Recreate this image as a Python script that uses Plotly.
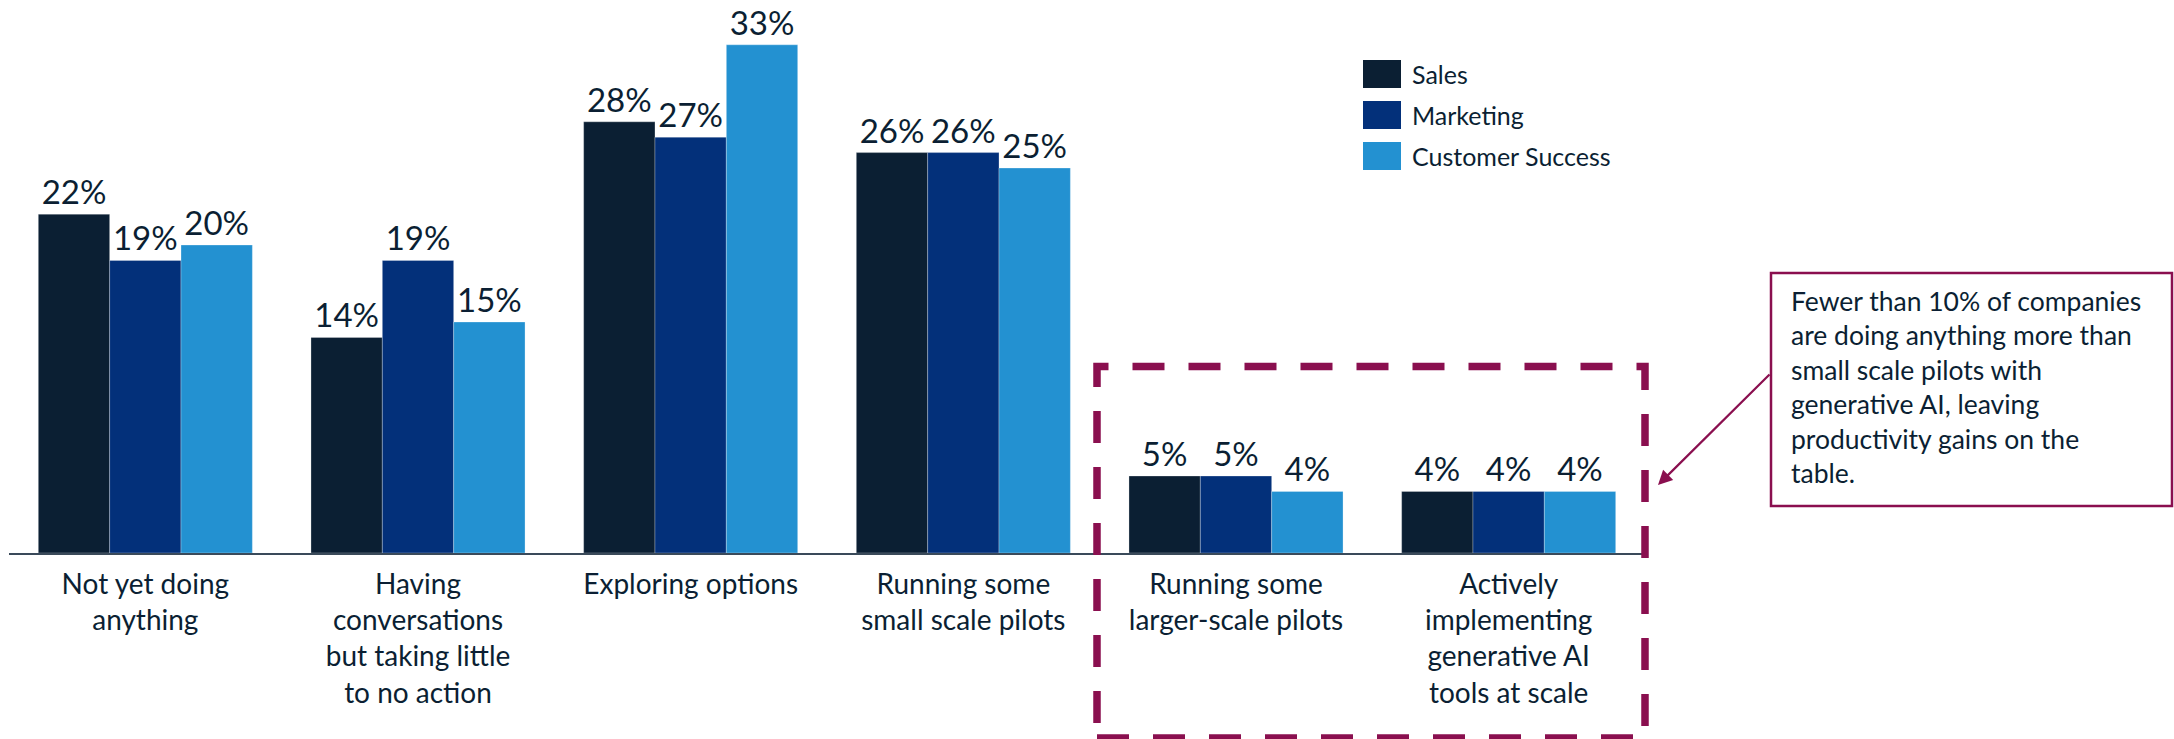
import plotly.graph_objects as go

# Survey stages (x categories) and the share of respondents per function
stages = [
    "Not yet doing<br>anything",
    "Having<br>conversations<br>but taking little<br>to no action",
    "Exploring options",
    "Running some<br>small scale pilots",
    "Running some<br>larger-scale pilots",
    "Actively<br>implementing<br>generative AI<br>tools at scale",
]
series_names = ["Sales", "Marketing", "Customer Success"]
sales = [22, 14, 28, 26, 5, 4]
marketing = [19, 19, 27, 26, 5, 4]
customer_success = [20, 15, 33, 25, 4, 4]

colors = ["#0b1f33", "#03307a", "#2391d1"]
TEXT = "#0b1f33"
MAROON = "#8a0f4f"
FONT = "Lato"

W, H = 2174, 739
M_L, M_R, M_T, M_B = 9, 529, 14, 186
PLOT_W = W - M_L - M_R
PLOT_H = H - M_T - M_B


def px_x(x):
    return (x - M_L) / PLOT_W


def px_y(y):
    return (H - M_B - y) / PLOT_H


fig = go.Figure()
for name, vals, col in zip(series_names, [sales, marketing, customer_success], colors):
    fig.add_trace(go.Bar(
        name=name,
        x=stages,
        y=vals,
        marker=dict(color=col, line=dict(color="rgba(255,255,255,0.35)", width=0.8)),
        text=[f"{v}%" for v in vals],
        textposition="outside",
        textfont=dict(family=FONT, size=33, color=TEXT),
        constraintext="none",
        cliponaxis=False,
        showlegend=False,
    ))

shapes = []
annotations = []

# Legend: coloured squares with labels
for i, (name, col) in enumerate(zip(series_names, colors)):
    top = 60 + i * 41
    shapes.append(dict(type="rect", xref="paper", yref="paper",
                       x0=px_x(1363), x1=px_x(1401), y0=px_y(top + 28), y1=px_y(top),
                       fillcolor=col, line=dict(width=0)))
    annotations.append(dict(xref="paper", yref="paper", x=px_x(1410), y=px_y(top + 14),
                            xanchor="left", yanchor="middle", showarrow=False,
                            text=name, font=dict(family=FONT, size=25, color=TEXT)))

# Dashed highlight around the two most advanced stages
shapes.append(dict(type="rect", xref="paper", yref="paper",
                   x0=px_x(1097), x1=px_x(1645), y0=px_y(738), y1=px_y(366.5),
                   line=dict(color=MAROON, width=7.5, dash="32px,24px"),
                   fillcolor="rgba(0,0,0,0)"))

# Callout box
shapes.append(dict(type="rect", xref="paper", yref="paper",
                   x0=px_x(1771), x1=px_x(2172), y0=px_y(506), y1=px_y(273),
                   line=dict(color=MAROON, width=2.5), fillcolor="white"))
annotations.append(dict(
    xref="paper", yref="paper", x=px_x(1789), y=px_y(387),
    xanchor="left", yanchor="middle", align="left", showarrow=False,
    text=("Fewer than 10% of companies<br>are doing anything more than<br>"
          "small scale pilots with<br>generative AI, leaving<br>"
          "productivity gains on the<br>table."),
    font=dict(family=FONT, size=26.5, color=TEXT),
))
# Arrow from callout to the highlighted stages
annotations.append(dict(
    xref="paper", yref="paper", x=px_x(1658), y=px_y(485),
    ax=113, ay=-112, text="", showarrow=True,
    arrowhead=2, arrowsize=1.3, arrowwidth=2.2, arrowcolor=MAROON,
))

fig.update_layout(
    width=W, height=H,
    margin=dict(l=M_L, r=M_R, t=M_T, b=M_B),
    paper_bgcolor="white", plot_bgcolor="white",
    barmode="group", bargap=0.215, bargroupgap=0,
    font=dict(family=FONT, color=TEXT),
    xaxis=dict(
        type="category", range=[-0.5, 5.5],
        showline=True, linecolor="#3a4a5a", linewidth=2,
        showgrid=False, ticks="", ticklabelstandoff=5,
        tickfont=dict(family=FONT, size=28, color=TEXT),
        fixedrange=True,
    ),
    yaxis=dict(range=[0, 35], visible=False, showgrid=False, zeroline=False, fixedrange=True),
    shapes=shapes,
    annotations=annotations,
)

fig.write_html("out.html")
